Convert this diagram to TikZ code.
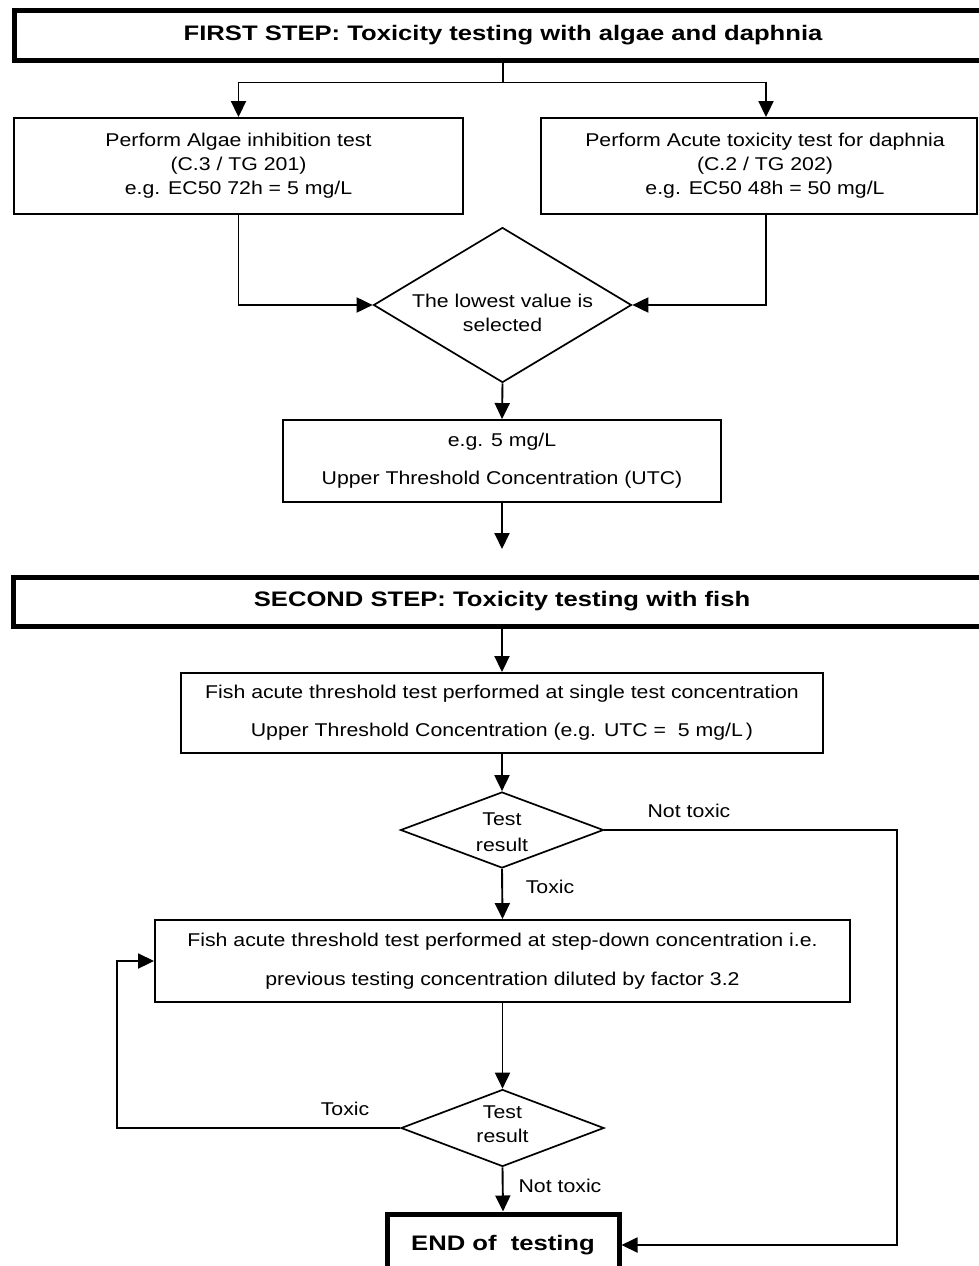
\documentclass[tikz,border=0pt]{standalone}
\usepackage{fontspec}
\setmainfont{Liberation Sans}[FakeStretch=1.15]
\newfontfamily\titlefont{Liberation Sans}[FakeStretch=1.22]
\usetikzlibrary{arrows.meta,shapes.geometric,calc}
\begin{document}
\begin{tikzpicture}[x=1pt,y=-1pt,
  txt/.style={font=\fontsize{18.5}{24}\selectfont},
  box/.style={txt, draw, line width=1.9pt, rectangle, inner sep=0pt, align=center},
  titlebox/.style={draw, line width=5pt, rectangle, inner sep=0pt, align=center,
    font=\titlefont\bfseries\fontsize{21}{25}\selectfont},
  dia/.style={txt, draw, line width=1.7pt, diamond, inner sep=0pt, align=center},
  dtext/.style={txt, inner sep=0pt, align=center},
  conn/.style={line width=1.9pt},
  arr/.style={conn, -{Triangle[length=16pt,width=15pt]}},
  lab/.style={txt, inner sep=0pt}
]
\useasboundingbox (0,0) rectangle (978,1266);

% ---------- first step ----------
\node[titlebox, minimum width=978pt, minimum height=50pt] (t1) at (503,35)
  {FIRST STEP: Toxicity testing with algae and daphnia};
\node[box, minimum width=449pt, minimum height=96pt] (a) at (238.5,166)
  {Perform Algae inhibition test\\(C.3 / TG 201)\\e.g. EC50 72h = 5 mg/L};
\node[box, minimum width=436pt, minimum height=96pt] (b) at (759,166)
  {\hspace*{12pt}Perform Acute toxicity test for daphnia\\\hspace*{12pt}(C.2 / TG 202)\\\hspace*{12pt}e.g. EC50 48h = 50 mg/L};
\coordinate (bx) at (766,0);
\node[dia, minimum width=258pt, minimum height=155pt, aspect=1.66] (d1) at (502.5,305) {};
\node[dtext] (d1t) at (502.5,313) {The lowest value is\\selected};
\node[box, minimum width=438pt, minimum height=82pt] (u) at (502,461)
  {e.g. 5 mg/L\\[14pt]Upper Threshold Concentration (UTC)};
\coordinate (uend) at (502,549);

\draw[arr] (t1.south) -- ++(0,20) -| (a.north);
\draw[arr] (t1.south) -- ++(0,20) -| (b.north -| bx);
\draw[arr] (a.south) |- (d1.west);
\draw[arr] (b.south -| bx) |- (d1.east);
\draw[arr] (d1.south) -- (u.north);
\draw[arr] (u.south) -- (uend);

% ---------- second step ----------
\node[titlebox, minimum width=978pt, minimum height=49pt] (t2) at (502,601.5)
  {SECOND STEP: Toxicity testing with fish};
\node[box, minimum width=642pt, minimum height=80pt] (f1) at (502,713)
  {Fish acute threshold test performed at single test concentration\\[14pt]Upper Threshold Concentration (e.g. UTC =\ \ 5 mg/L\,)};
\node[dia, minimum width=203pt, minimum height=76pt, aspect=2.67] (d2) at (502,830) {};
\node[dtext] (d2t) at (502,832) {Test\\[2pt]result};
\node[box, minimum width=695pt, minimum height=82pt] (f2) at (502.5,961)
  {Fish acute threshold test performed at step-down concentration i.e.\\[15pt]previous testing concentration diluted by factor 3.2};
\node[dia, minimum width=203pt, minimum height=77pt, aspect=2.64] (d3) at (502.5,1128) {};
\node[dtext] (d3t) at (502.5,1124) {Test\\result};
\node[titlebox, minimum width=232pt, minimum height=62pt] (e) at (503,1245)
  {END of\ \ testing};
\coordinate (rx) at (897,0);
\coordinate (lx) at (117,0);

\draw[arr] (t2.south) -- (f1.north);
\draw[arr] (f1.south) -- (d2.north);
\draw[arr] (d2.south) -- (f2.north);
\draw[arr] (d2.east) -- (d2.east -| rx) |- (e.east);
\draw[arr] (f2.south) -- (d3.north);
\draw[arr] (d3.west) -- (d3.west -| lx) |- (f2.west);
\draw[arr] (d3.south) -- (e.north);

\node[lab] (l1) at (689,811) {Not toxic};
\node[lab] (l2) at (550,887) {Toxic};
\node[lab] (l3) at (345,1109) {Toxic};
\node[lab] (l4) at (560,1186) {Not toxic};
\end{tikzpicture}
\end{document}
